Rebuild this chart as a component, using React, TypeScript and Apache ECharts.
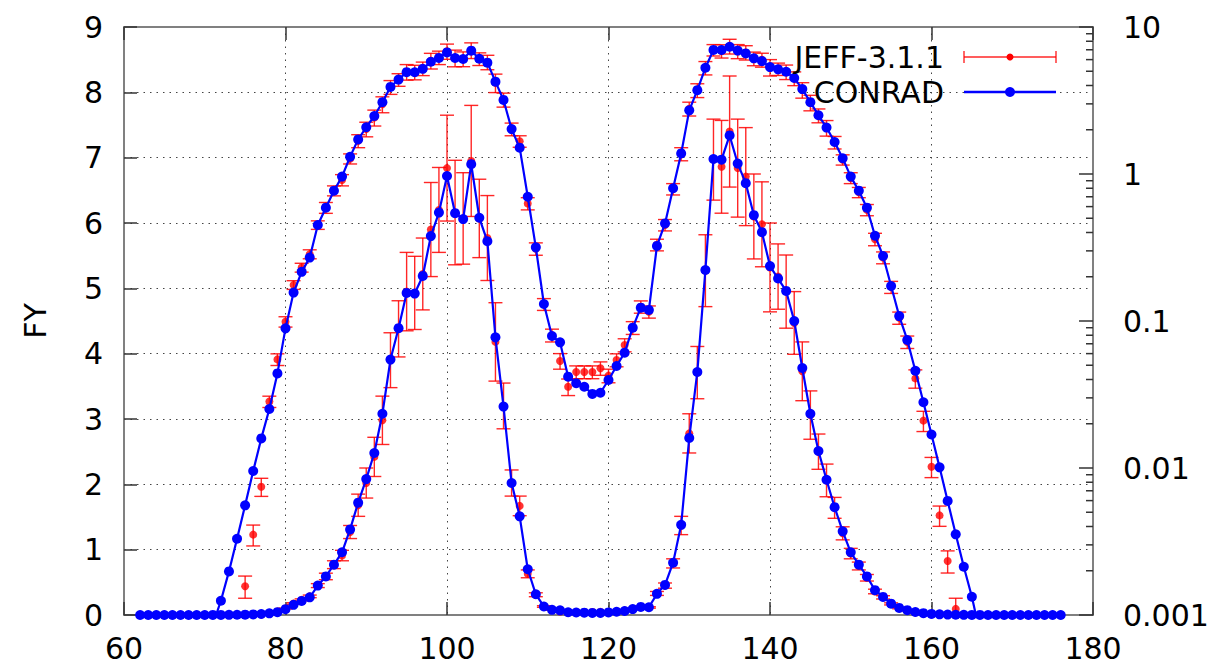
import React, { useEffect, useRef } from "react";
import * as echarts from "echarts";

// Mass numbers (A) of the CONRAD calculation
const masses = [
  62, 63, 64, 65, 66, 67, 68, 69, 70, 71, 72, 73, 74, 75, 76, 77, 78, 79, 80,
  81, 82, 83, 84, 85, 86, 87, 88, 89, 90, 91, 92, 93, 94, 95, 96, 97, 98, 99,
  100, 101, 102, 103, 104, 105, 106, 107, 108, 109, 110, 111, 112, 113, 114,
  115, 116, 117, 118, 119, 120, 121, 122, 123, 124, 125, 126, 127, 128, 129,
  130, 131, 132, 133, 134, 135, 136, 137, 138, 139, 140, 141, 142, 143, 144,
  145, 146, 147, 148, 149, 150, 151, 152, 153, 154, 155, 156, 157, 158, 159,
  160, 161, 162, 163, 164, 165, 166, 167, 168, 169, 170, 171, 172, 173, 174,
  175, 176,
];

// CONRAD fission yields (%)
const conrad = [
  0.000001, 0.000001, 0.000002, 0.000003, 0.000005, 0.00001, 0.00002, 0.00005,
  0.00025, 0.00086, 0.00125, 0.00198, 0.0033, 0.00557, 0.00954, 0.0159, 0.0252,
  0.044, 0.0891, 0.156, 0.216, 0.27, 0.45, 0.59, 0.77, 0.96, 1.31, 1.72, 2.08,
  2.48, 3.08, 3.91, 4.39, 4.93, 4.92, 5.19, 5.8, 6.16, 6.72, 6.15, 6.06, 6.9,
  6.08, 5.72, 4.25, 3.19, 2.02, 1.51, 0.7, 0.317, 0.1305, 0.0791, 0.0716,
  0.0418, 0.0377, 0.0357, 0.0319, 0.0325, 0.0397, 0.0494, 0.0609, 0.0901,
  0.1233, 0.1189, 0.324, 0.461, 0.8, 1.38, 2.71, 3.72, 5.28, 6.98, 6.97, 7.34,
  6.91, 6.61, 6.12, 5.86, 5.34, 5.15, 4.96, 4.5, 3.78, 3.08, 2.51, 2.07, 1.65,
  1.28, 0.96, 0.77, 0.59, 0.38, 0.277, 0.173, 0.108, 0.0743, 0.0459, 0.028,
  0.0169, 0.0101, 0.00597, 0.00354, 0.00213, 0.00133, 0.00075, 0.0003, 0.0001,
  0.00004, 0.00002, 0.00001, 0.000005, 0.000003, 0.000002, 0.000001, 0.000001,
];

// JEFF-3.1.1 evaluated yields (%) and their uncertainties
const jeffMasses = [
  70, 71, 72, 73, 74, 75, 76, 77, 78, 79, 80, 81, 82, 83, 84, 85, 86, 87, 88,
  89, 90, 91, 92, 93, 94, 95, 96, 97, 98, 99, 100, 101, 102, 103, 104, 105,
  106, 107, 108, 109, 110, 111, 112, 113, 114, 115, 116, 117, 118, 119, 120,
  121, 122, 123, 124, 125, 126, 127, 128, 129, 130, 131, 132, 133, 134, 135,
  136, 137, 138, 139, 140, 141, 142, 143, 144, 145, 146, 147, 148, 149, 150,
  151, 152, 153, 154, 155, 156, 157, 158, 159, 160, 161, 162, 163, 164, 165,
];
const jeff = [
  0.00002, 0.00004, 0.0001, 0.0003, 0.0007, 0.00157, 0.00352, 0.00746, 0.0283,
  0.0548, 0.0989, 0.176, 0.231, 0.285, 0.45, 0.59, 0.77, 0.91, 1.27, 1.68,
  2.02, 2.42, 2.98, 3.9, 4.38, 4.95, 4.93, 5.22, 5.9, 6.2, 6.84, 6.16, 6.07,
  6.95, 6.07, 5.77, 4.18, 3.2, 2.02, 1.67, 0.63, 0.31, 0.13, 0.08, 0.0535,
  0.0357, 0.045, 0.045, 0.045, 0.0477, 0.0425, 0.0543, 0.0687, 0.09, 0.125,
  0.1156, 0.33, 0.45, 0.79, 1.37, 2.78, 3.71, 5.27, 6.97, 6.86, 7.4, 6.84,
  6.71, 6.1, 5.98, 5.32, 5.18, 4.95, 4.47, 3.73, 3.06, 2.5, 2.06, 1.64, 1.25,
  0.94, 0.75, 0.57, 0.36, 0.27, 0.17, 0.105, 0.072, 0.0407, 0.021, 0.0102,
  0.00476, 0.00233, 0.0011, 0.0004, 0.00015,
];
const jeffErr = [
  0.000005, 0.00001, 0.00002, 0.00005, 0.0001, 0.00027, 0.00057, 0.00105,
  0.0025, 0.005, 0.008, 0.012, 0.016, 0.02, 0.03, 0.05, 0.06, 0.08, 0.1, 0.17,
  0.23, 0.3, 0.37, 0.42, 0.43, 0.6, 0.56, 0.55, 0.72, 0.65, 0.81, 0.8, 0.7,
  0.85, 0.6, 0.65, 0.6, 0.35, 0.2, 0.15, 0.06, 0.03, 0.012, 0.008, 0.0065,
  0.0046, 0.0045, 0.0045, 0.0045, 0.005, 0.0045, 0.0055, 0.007, 0.009, 0.012,
  0.011, 0.03, 0.04, 0.07, 0.14, 0.3, 0.4, 0.55, 0.62, 0.71, 0.85, 0.75, 0.75,
  0.65, 0.65, 0.68, 0.5, 0.56, 0.48, 0.45, 0.37, 0.27, 0.25, 0.16, 0.1, 0.08,
  0.06, 0.05, 0.035, 0.025, 0.016, 0.01, 0.007, 0.0058, 0.0033, 0.0016,
  0.00075, 0.0004, 0.0002, 0.0001, 0.00003,
];

const logDecades = [0.001, 0.01, 0.1, 1];
const logMinorFactors = [2, 3, 4, 5, 6, 7, 8, 9];

const FONT = "DejaVu Sans";
const FS = 30;

export default function App() {
  const ref = useRef<HTMLDivElement>(null);

  useEffect(() => {
    const chart = echarts.init(ref.current!, null, { renderer: "svg" });
    const conradData = masses.map((m, i) => [m, conrad[i]]);
    const jeffData = jeffMasses.map((m, i) => [m, jeff[i], jeffErr[i]]);
    const jeffPts = jeffMasses.map((m, i) => [m, jeff[i]]);

    const errStyle = { stroke: "rgba(255,0,0,0.85)", lineWidth: 1.4 };
    const renderErr = (params: any, api: any) => {
      const x = api.value(0);
      const y = api.value(1);
      const e = api.value(2);
      const top = api.coord([x, y + e]);
      const bot = api.coord([x, y - e]);
      const hw = 7;
      return {
        type: "group",
        children: [
          { type: "line", shape: { x1: top[0], y1: top[1], x2: bot[0], y2: bot[1] }, style: errStyle },
          { type: "line", shape: { x1: top[0] - hw, y1: top[1], x2: top[0] + hw, y2: top[1] }, style: errStyle },
          { type: "line", shape: { x1: bot[0] - hw, y1: bot[1], x2: bot[0] + hw, y2: bot[1] }, style: errStyle },
        ],
      };
    };

    const borderLine = { show: true, lineStyle: { color: "#808080", width: 2 } };
    const tickIn = { show: true, inside: true, length: 13, lineStyle: { color: "#333", width: 1.5 } };
    const dotted = { show: true, lineStyle: { color: "#444", width: 1, type: [1.5, 5] } };
    const labelStyle = { fontSize: FS, color: "#000", fontFamily: FONT };

    chart.setOption({
      animation: false,
      backgroundColor: "#fff",
      grid: { left: 124, right: 116, top: 27, bottom: 50, containLabel: false, outerBoundsMode: "none" },
      xAxis: [
        {
          type: "value", min: 60, max: 180, interval: 20, position: "bottom",
          axisLine: borderLine, axisTick: tickIn,
          axisLabel: { ...labelStyle, margin: 18 },
          splitLine: dotted,
        },
        {
          type: "value", min: 60, max: 180, interval: 20, position: "top",
          axisLine: borderLine, axisTick: tickIn,
          axisLabel: { show: false }, splitLine: { show: false },
        },
      ],
      yAxis: [
        {
          type: "value", min: 0, max: 9, interval: 1, position: "left",
          axisLine: borderLine, axisTick: tickIn,
          axisLabel: { ...labelStyle, margin: 21 },
          splitLine: dotted,
        },
        {
          type: "log", logBase: 10, min: 0.001, max: 10, splitNumber: 4, position: "right",
          axisLine: borderLine,
          axisTick: { show: true, inside: true, length: 14, lineStyle: { color: "#333", width: 1.5 } },
          axisLabel: {
            ...labelStyle, margin: 30,
            formatter: (v: number) => String(parseFloat(Number(v).toPrecision(3))),
          },
          splitLine: { show: false },
        },
      ],
      series: [
        {
          type: "custom", name: "JEFF-3.1.1", xAxisIndex: 0, yAxisIndex: 0,
          data: jeffData, renderItem: renderErr, encode: { x: 0, y: 1 }, clip: true, z: 2, silent: true,
        },
        {
          type: "scatter", name: "JEFF-3.1.1", xAxisIndex: 0, yAxisIndex: 0, data: jeffPts,
          symbol: "circle", symbolSize: 8, itemStyle: { color: "#ff0000" }, clip: true, z: 3, silent: true,
        },
        {
          type: "custom", name: "JEFF-3.1.1", xAxisIndex: 0, yAxisIndex: 1,
          data: jeffData, renderItem: renderErr, encode: { x: 0, y: 1 }, clip: true, z: 2, silent: true,
        },
        {
          type: "scatter", name: "JEFF-3.1.1", xAxisIndex: 0, yAxisIndex: 1, data: jeffPts,
          symbol: "circle", symbolSize: 8, itemStyle: { color: "#ff0000" }, clip: true, z: 3, silent: true,
        },
        {
          type: "line", name: "CONRAD", xAxisIndex: 0, yAxisIndex: 0, data: conradData,
          symbol: "circle", symbolSize: 10, showAllSymbol: true,
          lineStyle: { color: "#0000ff", width: 2.2 }, itemStyle: { color: "#0000ff" }, clip: true, z: 4, silent: true,
        },
        {
          type: "line", name: "CONRAD", xAxisIndex: 0, yAxisIndex: 1, data: conradData,
          symbol: "circle", symbolSize: 10, showAllSymbol: true,
          lineStyle: { color: "#0000ff", width: 2.2 }, itemStyle: { color: "#0000ff" }, clip: true, z: 4, silent: true,
        },
      ],
    });

    // Log-axis minor ticks (2..9 per decade) placed through the axis scale
    const xRight = chart.convertToPixel({ xAxisIndex: 0 }, 180) as number;
    const minorTicks: any[] = [];
    logDecades.forEach((d) => {
      logMinorFactors.forEach((f) => {
        const y = chart.convertToPixel({ yAxisIndex: 1 }, d * f) as number;
        minorTicks.push({
          type: "line", silent: true, z: 10,
          shape: { x1: xRight - 7, y1: y, x2: xRight, y2: y },
          style: { stroke: "#333", lineWidth: 1.5 },
        });
      });
    });

    const legendX1 = 964;
    const legendX2 = 1056;
    const legendMid = 1010;
    const y1 = 57;
    const y2 = 92;

    chart.setOption({
      graphic: [
        ...minorTicks,
        {
          type: "text", x: 35, y: 321, rotation: Math.PI / 2, silent: true,
          style: { text: "FY", fontSize: FS, fontFamily: FONT, fill: "#000", align: "center", verticalAlign: "middle" },
        },
        {
          type: "text", x: 944, y: y1, silent: true, z: 20,
          style: { text: "JEFF-3.1.1", fontSize: FS, fontFamily: FONT, fill: "#000", align: "right", verticalAlign: "middle" },
        },
        {
          type: "text", x: 944, y: y2, silent: true, z: 20,
          style: { text: "CONRAD", fontSize: FS, fontFamily: FONT, fill: "#000", align: "right", verticalAlign: "middle" },
        },
        { type: "line", silent: true, z: 20, shape: { x1: legendX1, y1: y1, x2: legendX2, y2: y1 }, style: errStyle },
        { type: "line", silent: true, z: 20, shape: { x1: legendX1, y1: y1 - 6, x2: legendX1, y2: y1 + 6 }, style: errStyle },
        { type: "line", silent: true, z: 20, shape: { x1: legendX2, y1: y1 - 6, x2: legendX2, y2: y1 + 6 }, style: errStyle },
        { type: "circle", silent: true, z: 21, shape: { cx: legendMid, cy: y1, r: 3.5 }, style: { fill: "#ff0000" } },
        { type: "line", silent: true, z: 20, shape: { x1: legendX1, y1: y2, x2: legendX2, y2: y2 }, style: { stroke: "#0000ff", lineWidth: 2.5 } },
        { type: "circle", silent: true, z: 21, shape: { cx: legendMid, cy: y2, r: 5 }, style: { fill: "#0000ff" } },
      ],
    });

    return () => chart.dispose();
  }, []);

  return (
    <div
      ref={ref}
      style={{ position: "fixed", left: 0, top: 0, width: 1209, height: 665, background: "#fff" }}
    />
  );
}
